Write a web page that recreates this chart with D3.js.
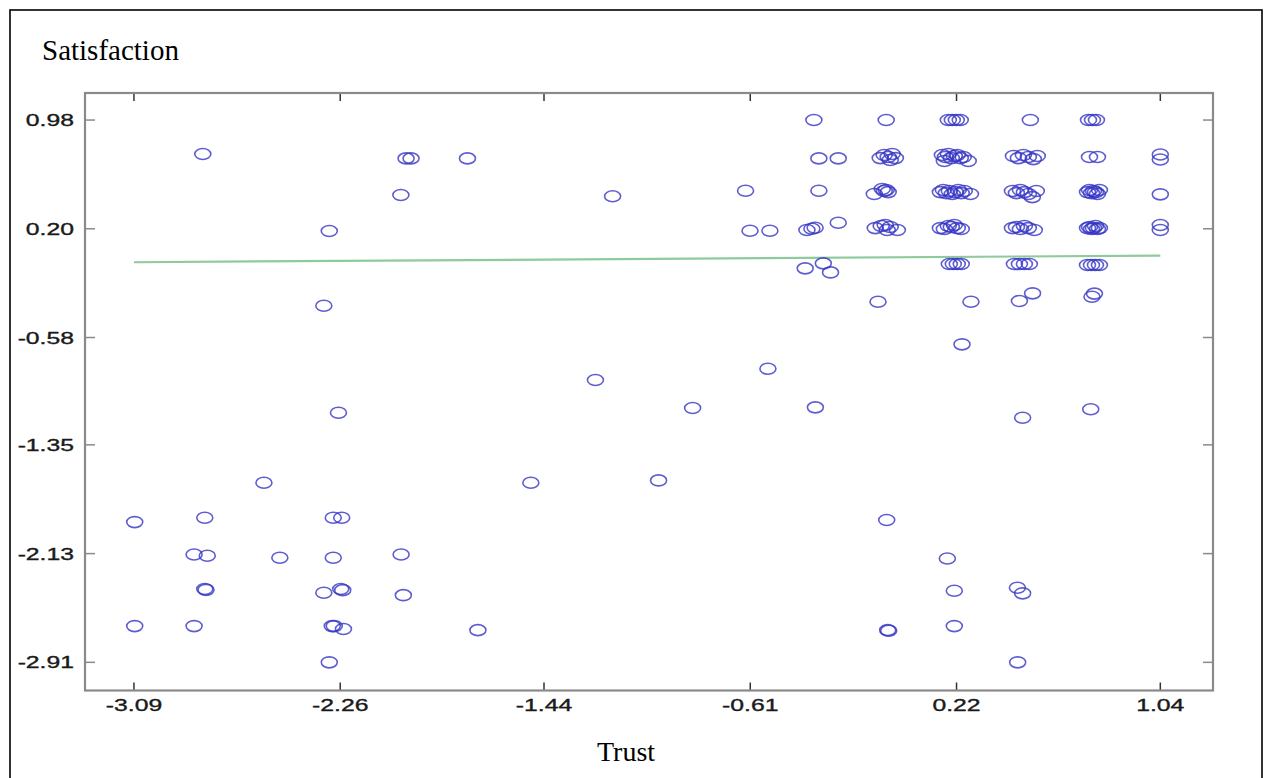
<!DOCTYPE html>
<html>
<head>
<meta charset="utf-8">
<script src="https://cdn.jsdelivr.net/npm/d3@7/dist/d3.min.js"></script>
<style>
  html, body { margin: 0; padding: 0; background: #fff; }
  svg { display: block; }
</style>
</head>
<body>
<svg id="chart" width="1270" height="778"></svg>
<script>
// ---- Data ----
const xTicks = [-3.09, -2.26, -1.44, -0.61, 0.22, 1.04];
const yTicks = [0.98, 0.20, -0.58, -1.35, -2.13, -2.91];
const xTickLabels = ["-3.09", "-2.26", "-1.44", "-0.61", "0.22", "1.04"];
const yTickLabels = ["0.98", "0.20", "-0.58", "-1.35", "-2.13", "-2.91"];
const xDomain = [-3.287, 1.252];
const yDomain = [-3.112, 1.174];

// Trust (x) and Satisfaction (y) for each respondent
const trust = [
  -2.813, -1.995, -1.975, -1.748, -2.016, -2.304, -2.326, -2.267, -2.567, -3.087,
  -2.805, -2.288, -2.254, -2.848, -2.795, -2.503, -2.288, -2.015, -2.805, -2.800,
  -2.326, -2.258, -2.250, -2.006, -3.087, -2.848, -2.292, -2.284, -2.247, -1.706,
  -2.304, -1.233, -1.164, -1.493, -0.979, -0.842, -0.539, -0.348, -0.629, -0.611,
  -0.531, -0.382, -0.362, -0.349, -0.256, -0.389, -0.316, -0.287, -0.354, -0.334,
  -0.256, -0.334, -0.061, -0.057, -0.053, 0.183, 0.211, 0.211, 0.465, 0.486,
  0.466, 0.242, 0.486, 0.760, -0.096, 0.278, 0.473, 0.526, 0.765, 0.775,
  // row 0.98
  -0.063, 0.187, 0.203, 0.219, 0.235, 0.517, 0.751, 0.767, 0.783,
  // row 0.71
  -0.087, -0.071, -0.055, -0.039, -0.026, -0.047,
  0.163, 0.175, 0.187, 0.199, 0.211, 0.223, 0.235, 0.247, 0.267, 0.171,
  0.449, 0.469, 0.489, 0.509, 0.529, 0.545,
  0.755, 0.787, 1.040, 1.040,
  // row 0.47
  -0.111, -0.071, -0.063, -0.055, -0.079,
  0.155, 0.167, 0.179, 0.191, 0.203, 0.215, 0.227, 0.239, 0.251, 0.276,
  0.445, 0.461, 0.477, 0.493, 0.509, 0.525, 0.541,
  0.747, 0.755, 0.763, 0.771, 0.779, 0.787, 0.795, 1.040,
  // row 0.20
  -0.107, -0.083, -0.067, -0.059, -0.047, -0.018,
  0.155, 0.171, 0.187, 0.199, 0.211, 0.223, 0.239,
  0.445, 0.461, 0.477, 0.493, 0.509, 0.533,
  0.747, 0.755, 0.763, 0.771, 0.779, 0.787, 0.795, 1.040, 1.040,
  // row -0.05
  0.191, 0.207, 0.223, 0.239,
  0.453, 0.473, 0.493, 0.513,
  0.747, 0.763, 0.779, 0.795
];
const satisfaction = [
  0.736, 0.705, 0.705, 0.705, 0.442, 0.184, -0.352, -1.120, -1.622, -1.904,
  -1.873, -1.873, -1.873, -2.136, -2.145, -2.160, -2.160, -2.136, -2.384, -2.390,
  -2.411, -2.384, -2.392, -2.428, -2.650, -2.650, -2.650, -2.650, -2.671, -2.679,
  -2.910, -0.885, 0.433, -1.622, -1.605, -1.086, -0.804, -1.081, 0.473, 0.186,
  0.186, 0.191, 0.200, 0.207, 0.243, -0.084, -0.048, -0.113, 0.980, 0.705,
  0.705, 0.473, -1.889, -2.679, -2.683, -2.165, -2.396, -2.650, -2.375, -2.415,
  -2.910, -0.629, -1.155, -1.095, -0.323, -0.323, -0.318, -0.263, -0.288, -0.265,
  // row 0.98
  0.980, 0.980, 0.980, 0.980, 0.980, 0.980, 0.980, 0.980, 0.980,
  // row 0.71
  0.707, 0.729, 0.715, 0.736, 0.707, 0.693,
  0.729, 0.715, 0.736, 0.707, 0.722, 0.729, 0.707, 0.715, 0.686, 0.686,
  0.722, 0.707, 0.729, 0.715, 0.700, 0.722,
  0.715, 0.715, 0.733, 0.697,
  // row 0.47
  0.449, 0.471, 0.478, 0.463, 0.485,
  0.463, 0.478, 0.456, 0.471, 0.449, 0.463, 0.478, 0.456, 0.471, 0.449,
  0.471, 0.456, 0.478, 0.463, 0.449, 0.427, 0.471,
  0.463, 0.478, 0.456, 0.471, 0.463, 0.449, 0.478, 0.447,
  // row 0.20
  0.205, 0.220, 0.227, 0.191, 0.213, 0.191,
  0.205, 0.198, 0.220, 0.213, 0.227, 0.205, 0.198,
  0.205, 0.213, 0.198, 0.220, 0.205, 0.191,
  0.205, 0.213, 0.198, 0.205, 0.220, 0.198, 0.205, 0.227, 0.191,
  // row -0.05
  -0.053, -0.053, -0.053, -0.053,
  -0.053, -0.053, -0.053, -0.053,
  -0.060, -0.060, -0.060, -0.060
];

// Fitted (regression) line end points
const fitX = [-3.09, 1.04];
const fitY = [-0.040, 0.008];

const xTitle = "Trust";
const yTitle = "Satisfaction";

// ---- Layout ----
const W = 1270, H = 778;
const plot = { left: 85, right: 1213, top: 93, bottom: 690.5 };
const labelStretch = 1.5;

const svg = d3.select("#chart");

svg.append("rect").attr("width", W).attr("height", H).attr("fill", "#fff");

// outer black frame
svg.append("rect")
  .attr("x", 10).attr("y", 10)
  .attr("width", 1252).attr("height", 790)
  .attr("fill", "none").attr("stroke", "#000").attr("stroke-width", 1.6);

const x = d3.scaleLinear().domain(xDomain).range([plot.left, plot.right]);
const y = d3.scaleLinear().domain(yDomain).range([plot.bottom, plot.top]);

// axes frame (MATLAB style box with inward ticks)
const gAxes = svg.append("g");

const xTickLen = 8, yTickLen = 10;
gAxes.selectAll("line.xtb").data(xTicks).enter().append("line")
  .attr("x1", d => x(d)).attr("x2", d => x(d))
  .attr("y1", plot.bottom).attr("y2", plot.bottom - xTickLen)
  .attr("stroke", "#333").attr("stroke-width", 1.5);
gAxes.selectAll("line.xtt").data(xTicks).enter().append("line")
  .attr("x1", d => x(d)).attr("x2", d => x(d))
  .attr("y1", plot.top).attr("y2", plot.top + xTickLen)
  .attr("stroke", "#333").attr("stroke-width", 1.5);
gAxes.selectAll("line.ytl").data(yTicks).enter().append("line")
  .attr("x1", plot.left).attr("x2", plot.left + yTickLen)
  .attr("y1", d => y(d)).attr("y2", d => y(d))
  .attr("stroke", "#8a8a8a").attr("stroke-width", 1.5);
gAxes.selectAll("line.ytr").data(yTicks).enter().append("line")
  .attr("x1", plot.right).attr("x2", plot.right - yTickLen)
  .attr("y1", d => y(d)).attr("y2", d => y(d))
  .attr("stroke", "#8a8a8a").attr("stroke-width", 1.5);

gAxes.append("rect")
  .attr("x", plot.left).attr("y", plot.top)
  .attr("width", plot.right - plot.left).attr("height", plot.bottom - plot.top)
  .attr("fill", "none").attr("stroke", "#8a8a8a").attr("stroke-width", 2.2);

// tick labels (horizontally stretched like the source)
const labelFont = "'Liberation Sans', Arial, sans-serif";
xTicks.forEach((v, i) => {
  svg.append("g")
    .attr("transform", `translate(${x(v)},${711}) scale(${labelStretch},1)`)
    .append("text")
    .attr("text-anchor", "middle")
    .attr("font-family", labelFont).attr("font-size", 16.5)
    .attr("fill", "#1a1a1a").attr("stroke", "#1a1a1a").attr("stroke-width", 0.35)
    .text(xTickLabels[i]);
});
yTicks.forEach((v, i) => {
  svg.append("g")
    .attr("transform", `translate(${74},${y(v) + 6}) scale(${labelStretch},1)`)
    .append("text")
    .attr("text-anchor", "end")
    .attr("font-family", labelFont).attr("font-size", 16.5)
    .attr("fill", "#1a1a1a").attr("stroke", "#1a1a1a").attr("stroke-width", 0.35)
    .text(yTickLabels[i]);
});

// titles
const titleFont = "'Liberation Serif', 'Times New Roman', serif";
svg.append("text")
  .attr("x", 42).attr("y", 60)
  .attr("font-family", titleFont).attr("font-size", 29)
  .attr("fill", "#000")
  .text(yTitle);
svg.append("text")
  .attr("x", 626).attr("y", 761)
  .attr("text-anchor", "middle")
  .attr("font-family", titleFont).attr("font-size", 28)
  .attr("fill", "#000")
  .text(xTitle);

// fitted line
svg.append("path")
  .datum(fitX.map((v, i) => [v, fitY[i]]))
  .attr("d", d3.line().x(d => x(d[0])).y(d => y(d[1])))
  .attr("fill", "none")
  .attr("stroke", "#8fca9c")
  .attr("stroke-width", 2.2);

// scatter markers (open ellipses)
const pts = trust.map((t, i) => ({ t, s: satisfaction[i] }));
svg.append("g").selectAll("ellipse").data(pts).enter().append("ellipse")
  .attr("cx", d => x(d.t)).attr("cy", d => y(d.s))
  .attr("rx", 8).attr("ry", 5.5)
  .attr("fill", "none")
  .attr("stroke", "#3434c4")
  .attr("stroke-opacity", 0.8)
  .attr("stroke-width", 1.6);
</script>
</body>
</html>
